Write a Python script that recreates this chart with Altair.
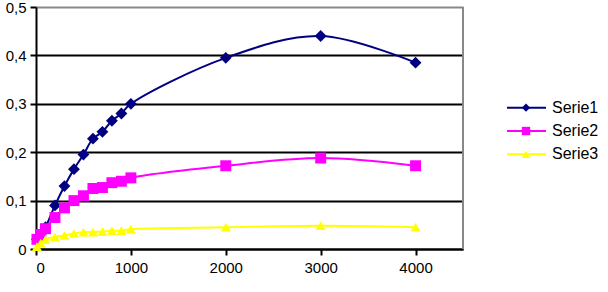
import altair as alt
import pandas as pd

x_vals = [10, 50, 100, 200, 300, 400, 500, 600, 700, 800, 900, 1000, 2000, 3000, 4000]
serie1 = [0.02, 0.03, 0.045, 0.09, 0.13, 0.165, 0.195, 0.228, 0.242, 0.265, 0.28, 0.30, 0.395, 0.44, 0.385]
serie2 = [0.02, 0.03, 0.042, 0.065, 0.085, 0.10, 0.11, 0.125, 0.127, 0.137, 0.14, 0.147, 0.172, 0.188, 0.172]
serie3 = [0.005, 0.012, 0.02, 0.025, 0.028, 0.032, 0.035, 0.035, 0.036, 0.038, 0.038, 0.041, 0.045, 0.048, 0.045]

names = ["Serie1", "Serie2", "Serie3"]
colors = ["#000080", "#FF00FF", "#FFFF00"]
shapes = ["diamond", "square", "triangle-up"]
sizes = [140, 100, 120]

rows = []
for name, vals in zip(names, [serie1, serie2, serie3]):
    for x, v in zip(x_vals, vals):
        rows.append({"x": x, "y": v, "series": name})
df = pd.DataFrame(rows)

FONT = "Liberation Sans"
W, H = 427, 242
color_scale = alt.Scale(domain=names, range=colors)
shape_scale = alt.Scale(domain=names, range=shapes)
size_scale = alt.Scale(domain=names, range=sizes)

xenc = alt.X("x:Q", scale=alt.Scale(domain=[0, 4500], nice=False),
             axis=alt.Axis(values=[0, 1000, 2000, 3000, 4000], grid=False, title=None, format="d",
                           domainColor="black", domainWidth=2, tickColor="black", tickWidth=2,
                           tickSize=6, labelFontSize=15, labelFont=FONT, labelColor="black",
                           labelPadding=5))
yenc = alt.Y("y:Q", scale=alt.Scale(domain=[0, 0.5], nice=False),
             axis=alt.Axis(values=[0, 0.1, 0.2, 0.3, 0.4, 0.5], title=None,
                           gridColor=alt.condition("datum.value >= 0.5", alt.value("#888888"), alt.value("black")),
                           gridWidth=2, grid=True,
                           domainColor="black", domainWidth=2, tickColor="black", tickWidth=2,
                           tickSize=6, labelFontSize=15, labelFont=FONT, labelColor="black",
                           labelPadding=4,
                           labelExpr="datum.value == 0 ? '0' : replace(format(datum.value, '.1f'), '.', ',')"))

base = alt.Chart(df)
lines = base.mark_line(strokeWidth=2, interpolate="catmull-rom").encode(
    x=xenc, y=yenc,
    color=alt.Color("series:N", scale=color_scale, legend=None),
    detail="series:N",
)
points = base.mark_point(filled=True, opacity=1).encode(
    x="x:Q", y="y:Q",
    color=alt.Color("series:N", scale=color_scale, legend=None),
    shape=alt.Shape("series:N", scale=shape_scale, legend=None),
    size=alt.Size("series:N", scale=size_scale, legend=None),
)
border = alt.Chart(pd.DataFrame({"b": [4500]})).mark_rule(color="#888888", strokeWidth=2).encode(
    x=alt.X("b:Q"), y=alt.value(0), y2=alt.value(H),
)
main = alt.layer(lines, points, border).properties(width=W, height=H)

leg_df = pd.DataFrame({"series": names})
ly = alt.Y("series:N", scale=alt.Scale(domain=names, range=[89, 159]), axis=None)
leg_lines = alt.Chart(leg_df).mark_rule(strokeWidth=2).encode(
    x=alt.value(43), x2=alt.value(82), y=ly,
    color=alt.Color("series:N", scale=color_scale, legend=None),
)
leg_pts = alt.Chart(leg_df).mark_point(filled=True, opacity=1).encode(
    x=alt.value(62), y=ly,
    color=alt.Color("series:N", scale=color_scale, legend=None),
    shape=alt.Shape("series:N", scale=shape_scale, legend=None),
    size=alt.value(70),
)
leg_text = alt.Chart(leg_df).mark_text(align="left", baseline="middle", fontSize=16, font=FONT,
                                       color="black").encode(
    x=alt.value(88), y=ly, text="series:N",
)
legend = alt.layer(leg_lines, leg_pts, leg_text).properties(width=130, height=H)

chart = alt.hconcat(main, legend, spacing=0).resolve_scale(
    color="shared", shape="shared"
).configure_view(stroke=None).configure_concat(spacing=0).properties(
    padding={"left": 5, "top": 0, "right": 0, "bottom": 0}
)

chart.save("out.html", embed_options={"renderer": "svg", "actions": False})
